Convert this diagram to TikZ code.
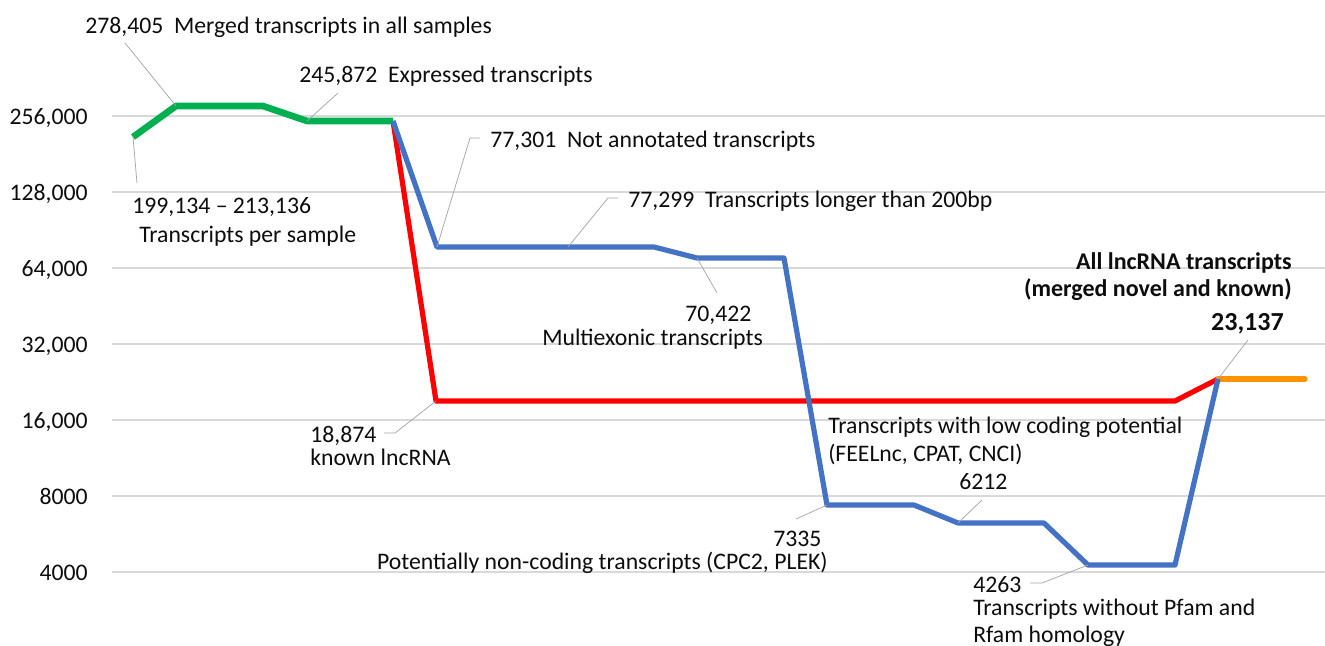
\documentclass[tikz,border=0pt]{standalone}
\usepackage{fontspec}
\setmainfont{Carlito}
\definecolor{gridgray}{RGB}{217,217,217}
\definecolor{leadgray}{RGB}{166,166,166}
\definecolor{sgreen}{RGB}{0,176,80}
\definecolor{sblue}{RGB}{68,114,196}
\definecolor{sred}{RGB}{255,0,0}
\definecolor{sorange}{RGB}{255,146,0}
\definecolor{txt}{RGB}{13,13,13}
\begin{document}
\begin{tikzpicture}[x=0.75pt,y=-0.75pt,
  gridline/.style={draw=gridgray,line width=0.9pt},
  series/.style={line width=3.9pt,line join=round},
  leader/.style={draw=leadgray,line width=0.55pt},
  lbl/.style={inner sep=0pt,anchor=base west,text=txt,font=\fontsize{17.8}{21}\selectfont},
  lblr/.style={lbl,anchor=base east},
  boldlbl/.style={inner sep=0pt,anchor=base east,text=txt,font=\fontsize{18}{21}\selectfont\bfseries},
  ylab/.style={inner sep=0pt,anchor=base east,text=txt,font=\fontsize{17.8}{21}\selectfont}]
\useasboundingbox[fill=white] (0,0) rectangle (1325,646);

% y axis labels and gridlines
\node[ylab] (y256) at (88,124) {256,000};
\node[ylab] (y128) at (88,200) {128,000};
\node[ylab] (y64)  at (88,276) {64,000};
\node[ylab] (y32)  at (88,352) {32,000};
\node[ylab] (y16)  at (88,428) {16,000};
\node[ylab] (y8)   at (88,504) {8000};
\node[ylab] (y4)   at (88,580) {4000};
\foreach \yy in {116,192,268,344,420,496,572}
  \draw[gridline] (112,\yy) -- (1325,\yy);

% data points
\coordinate (g0) at (133,137);
\coordinate (g1) at (176,106);
\coordinate (g3) at (263,106);
\coordinate (g4) at (307,121);
\coordinate (g6) at (393,121);
\coordinate (b7) at (437,247);
\coordinate (b12) at (654,247);
\coordinate (b13) at (697,258);
\coordinate (b15) at (784,258);
\coordinate (b16) at (827,505);
\coordinate (b18) at (914,505);
\coordinate (b19) at (958,523);
\coordinate (b21) at (1044,523);
\coordinate (b22) at (1088,565);
\coordinate (b24) at (1175,565);
\coordinate (b25) at (1218,379);
\coordinate (r7) at (436,401);
\coordinate (r24) at (1175,401);
\coordinate (o27) at (1305,379);
\coordinate (bmid) at (568,247);

% series
\draw[series,draw=sred] (g6) -- (r7) -- (r24) -- (b25);
\draw[series,draw=sorange,line cap=round] (b25) -- (o27);
\draw[series,draw=sgreen,line width=5pt] (g0) -- (g1) -- (g3) -- (g4) -- (g6);
\draw[series,draw=sblue] (g6) -- (b7) -- (b12) -- (b13) -- (b15) -- (b16) -- (b18) -- (b19) -- (b21) -- (b22) -- (b24) -- (b25);

% labels
\node[lbl] (l278) at (85,33) {278,405~~Merged transcripts in all samples};
\node[lbl] (l245) at (299,82) {245,872~~Expressed transcripts};
\node[lbl] (l199) at (132,213) {199,134 – 213,136};
\node[lbl] (l199b) at (139,242) {Transcripts per sample};
\node[lbl] (l773) at (490,147) {77,301~~Not annotated transcripts};
\node[lbl] (l772) at (628,207) {77,299~~Transcripts longer than 200bp};
\node[lbl] (l704) at (685,321) {70,422};
\node[lbl] (l704b) at (542,345) {Multiexonic transcripts};
\node[lbl] (l188) at (310,442) {18,874};
\node[lbl] (l188b) at (310,465) {known lncRNA};
\node[lbl] (llow) at (828,433) {Transcripts with low coding potential};
\node[lbl] (llowb) at (828,461) {(FEELnc, CPAT, CNCI)};
\node[lbl] (l621) at (959,489) {6212};
\node[lbl] (l733) at (773,546) {7335};
\node[lblr] (l733b) at (828,569) {Potentially non-coding transcripts (CPC2, PLEK)};
\node[lbl] (l426) at (973,592) {4263};
\node[lbl] (l426b) at (973,615) {Transcripts without Pfam and};
\node[lbl] (l426c) at (973,642) {Rfam homology};
\node[boldlbl] (lall) at (1292,269) {All lncRNA transcripts};
\node[boldlbl] (lallb) at (1292,296) {(merged novel and known)};
\node[boldlbl,font=\fontsize{19.5}{22}\selectfont\bfseries] (l231) at (1284,330) {23,137};

% leader lines
\coordinate (e278) at (125,43);
\coordinate (e245) at (338,93);
\coordinate (e199) at (137,183);
\coordinate (e773) at (470,138);
\coordinate (f773) at (480,138);
\coordinate (e772) at (608,198);
\coordinate (f772) at (618,198);
\coordinate (e704) at (717,293);
\coordinate (e188) at (395,433);
\coordinate (f188) at (384,433);
\coordinate (e733) at (796,519);
\coordinate (e621) at (982,500);
\coordinate (e426) at (1042,583);
\coordinate (f426) at (1030,583);
\coordinate (e231) at (1248,340);
\draw[leader] (g1) -- (e278);
\draw[leader] (g4) -- (e245);
\draw[leader] (g0) -- (e199);
\draw[leader] (b7) -- (e773) -- (f773);
\draw[leader] (bmid) -- (e772) -- (f772);
\draw[leader] (b13) -- (e704);
\draw[leader] (r7) -- (e188) -- (f188);
\draw[leader] (b16) -- (e733);
\draw[leader] (b19) -- (e621);
\draw[leader] (b22) -- (e426) -- (f426);
\draw[leader] (b25) -- (e231);
\end{tikzpicture}
\end{document}
